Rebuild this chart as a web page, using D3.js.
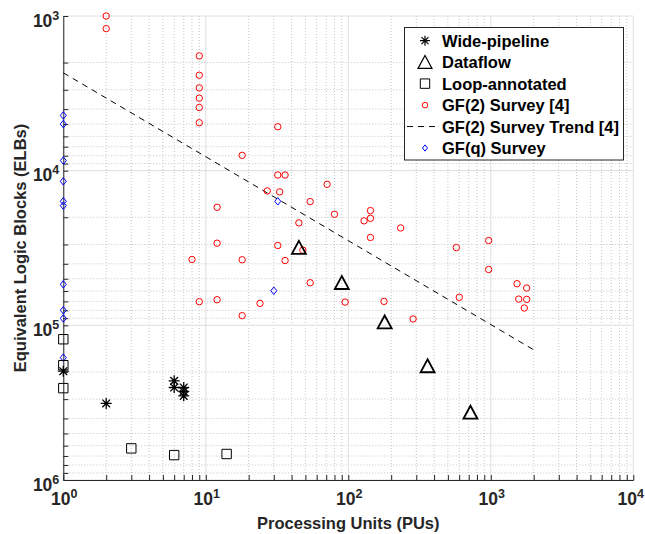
<!DOCTYPE html>
<html>
<head>
<meta charset="utf-8">
<script src="https://cdn.jsdelivr.net/npm/d3@7"></script>
<style>
  body { margin: 0; background: #fff; }
  svg { font-family: "Liberation Sans", Arial, Helvetica, sans-serif; font-weight: bold; }
</style>
</head>
<body>
<div id="chart"></div>
<script>
// Wide-pipeline (asterisks)
const widePU  = [1, 2, 6, 6, 7, 7, 7];
const wideELB = [198000, 320000, 228600, 252300, 252300, 267700, 285800];

// Dataflow (triangles)
const flowPU  = [45, 90, 180, 360, 720];
const flowELB = [31400, 53000, 95300, 183000, 365600];

// Loop-annotated (squares)
const loopPU  = [1, 1, 1, 3, 6, 14];
const loopELB = [123000, 181000, 254700, 624500, 690000, 679000];

// GF(2) survey [4] (red circles)
const gf2PU  = [2, 2, 9, 9, 9, 9, 9, 9, 32, 18, 32, 36, 71, 27, 33, 54, 12, 80, 143, 143,
                129, 45, 233, 143, 12, 32, 48, 8, 18, 36, 54, 9, 12, 24, 95, 178, 18, 285,
                573, 966, 966, 601, 1528, 1786, 1570, 1786, 1718];
const gf2ELB = [1000, 1207, 1812, 2415, 2914, 3397, 3905, 4898, 5200, 7960, 10670, 10670,
                12250, 13520, 13710, 15850, 17250, 19140, 18110, 20320, 21110, 21760, 23450,
                27040, 29430, 30480, 32670, 37500, 37670, 38100, 53040, 70330, 68270, 72130,
                70750, 70000, 86600, 90960, 31420, 28290, 43550, 65900, 53800, 57400, 67660,
                67940, 77270];

// GF(2) survey trend [4] (dashed line)
const trendPU  = [1, 2000];
const trendELB = [2330, 144000];

// GF(q) survey (blue diamonds)
const gfqPU  = [1, 1, 1, 1, 1, 1, 1, 1, 1, 1, 32, 30];
const gfqELB = [4395, 5000, 8610, 11720, 15780, 16830, 54330, 79960, 90200, 161700, 15780, 59740];

// axis ticks
const xMajor = [1, 10, 100, 1000, 10000];
const yMajor = [1000, 10000, 100000, 1000000];
const xLabels = ["0", "1", "2", "3", "4"];
const yLabels = ["3", "4", "5", "6"];

const legendNames = ["Wide-pipeline", "Dataflow", "Loop-annotated", "GF(2) Survey [4]",
                     "GF(2) Survey Trend [4]", "GF(q) Survey"];

const width = 645;
const height = 534;
const margins = { top: 16, right: 11.7, bottom: 54, left: 63.3 };

const xScale = d3.scaleLog()
  .domain([1, 10000])
  .range([margins.left, width - margins.right]);

// ELBs grow downwards
const yScale = d3.scaleLog()
  .domain([1000, 1000000])
  .range([margins.top, height - margins.bottom]);

// minor tick values 2..9 of every decade
function minors(major) {
  const out = [];
  major.slice(0, -1).forEach(m => {
    for (let k = 2; k <= 9; k++) out.push(m * k);
  });
  return out;
}
const xMinor = minors(xMajor);
const yMinor = minors(yMajor);

const svg = d3.select("#chart")
  .append("svg")
  .attr("width", width)
  .attr("height", height);

const x0 = margins.left, x1 = width - margins.right;
const y0 = margins.top, y1 = height - margins.bottom;

// minor grid (dotted)
svg.append("g")
  .selectAll("line")
  .data(xMinor)
  .join("line")
  .attr("x1", d => xScale(d)).attr("x2", d => xScale(d))
  .attr("y1", y0).attr("y2", y1)
  .attr("stroke", "#c4c4c4")
  .attr("stroke-dasharray", "1,2");
svg.append("g")
  .selectAll("line")
  .data(yMinor)
  .join("line")
  .attr("y1", d => yScale(d)).attr("y2", d => yScale(d))
  .attr("x1", x0).attr("x2", x1)
  .attr("stroke", "#c4c4c4")
  .attr("stroke-dasharray", "1,2");

// major grid (solid, light)
svg.append("g")
  .selectAll("line")
  .data(xMajor)
  .join("line")
  .attr("x1", d => xScale(d)).attr("x2", d => xScale(d))
  .attr("y1", y0).attr("y2", y1)
  .attr("stroke", "#dedede");
svg.append("g")
  .selectAll("line")
  .data(yMajor)
  .join("line")
  .attr("y1", d => yScale(d)).attr("y2", d => yScale(d))
  .attr("x1", x0).attr("x2", x1)
  .attr("stroke", "#dedede");

// axes, ticks pointing inward
function styleAxis(g) {
  g.selectAll("text").remove();
  g.selectAll("path, line").attr("stroke", "#262626");
}

svg.append("g")
  .attr("transform", `translate(0,${y1})`)
  .call(d3.axisBottom(xScale).tickValues(xMajor.concat(xMinor)).tickSizeInner(-5).tickSizeOuter(0))
  .call(styleAxis);

svg.append("g")
  .attr("transform", `translate(${x0},0)`)
  .call(d3.axisLeft(yScale).tickValues(yMajor.concat(yMinor)).tickSizeInner(-5).tickSizeOuter(0))
  .call(styleAxis);

// tick labels 10^n (last one kept inside the page edge)
const xt = svg.append("g")
  .selectAll("text")
  .data(xMajor)
  .join("text")
  .attr("x", (d, i) => i === xMajor.length - 1 ? width - 1 : xScale(d) + 1)
  .attr("y", y1 + 25)
  .attr("text-anchor", (d, i) => i === xMajor.length - 1 ? "end" : "middle")
  .attr("font-size", 17.5)
  .attr("fill", "#262626");
xt.append("tspan").text("10");
xt.append("tspan").attr("font-size", 12.5).attr("dy", -7).text((d, i) => xLabels[i]);

const yt = svg.append("g")
  .selectAll("text")
  .data(yMajor)
  .join("text")
  .attr("x", x0 - 4)
  .attr("y", d => yScale(d) + 10.5)
  .attr("text-anchor", "end")
  .attr("font-size", 17.5)
  .attr("fill", "#262626");
yt.append("tspan").text("10");
yt.append("tspan").attr("font-size", 12.5).attr("dy", -7).text((d, i) => yLabels[i]);

// axis titles
svg.append("text")
  .attr("x", (x0 + x1) / 2)
  .attr("y", 529)
  .attr("text-anchor", "middle")
  .attr("font-size", 16.5)
  .attr("fill", "#262626")
  .text("Processing Units (PUs)");

svg.append("text")
  .attr("transform", `translate(25.5,${(y0 + y1) / 2}) rotate(-90)`)
  .attr("text-anchor", "middle")
  .attr("font-size", 16.5)
  .attr("fill", "#262626")
  .text("Equivalent Logic Blocks (ELBs)");

// marker shapes
const starPath = s => `M${-s},0L${s},0M0,${-s}L0,${s}M${-s * 0.7},${-s * 0.7}L${s * 0.7},${s * 0.7}M${-s * 0.7},${s * 0.7}L${s * 0.7},${-s * 0.7}`;
const triPath = s => `M0,${-s * 0.95}L${s},${s * 0.9}L${-s},${s * 0.9}Z`;
const sqPath = s => `M${-s},${-s}H${s}V${s}H${-s}Z`;
const diaPath = s => `M0,${-s * 1.25}L${s},0L0,${s * 1.25}L${-s},0Z`;

// trend line
const line = d3.line()
  .x(d => xScale(d[0]))
  .y(d => yScale(d[1]));
svg.append("path")
  .datum(d3.zip(trendPU, trendELB))
  .attr("d", line)
  .attr("fill", "none")
  .attr("stroke", "#000")
  .attr("stroke-width", 1)
  .attr("stroke-dasharray", "6,5");

function drawMarks(px, py, path, color, sw) {
  svg.append("g")
    .selectAll("path")
    .data(d3.zip(px, py))
    .join("path")
    .attr("transform", d => `translate(${xScale(d[0])},${yScale(d[1])})`)
    .attr("d", path)
    .attr("fill", "none")
    .attr("stroke", color)
    .attr("stroke-width", sw);
}

// red circles
svg.append("g")
  .selectAll("circle")
  .data(d3.zip(gf2PU, gf2ELB))
  .join("circle")
  .attr("cx", d => xScale(d[0]))
  .attr("cy", d => yScale(d[1]))
  .attr("r", 3.2)
  .attr("fill", "none")
  .attr("stroke", "#ff0000")
  .attr("stroke-width", 1);

drawMarks(gfqPU, gfqELB, diaPath(3), "#0000ff", 1);
drawMarks(loopPU, loopELB, sqPath(4.7), "#000", 1);
drawMarks(widePU, wideELB, starPath(5.5), "#000", 1.3);
drawMarks(flowPU, flowELB, triPath(7), "#000", 1.8);

// legend
const lg = svg.append("g");
lg.append("rect")
  .attr("x", 404.5).attr("y", 27.5)
  .attr("width", 219).attr("height", 132.5)
  .attr("fill", "#fff")
  .attr("stroke", "#262626")
  .attr("stroke-width", 1);

const rowY = i => 40.7 + i * 21.46;
const sym = [
  { d: starPath(5), c: "#000", w: 1.2 },
  { d: triPath(7), c: "#000", w: 1.2 },
  { d: sqPath(4.7), c: "#000", w: 1 },
  { d: null, c: "#ff0000", w: 1 },
  { d: null, c: "#000", w: 1 },
  { d: diaPath(2.5), c: "#0000ff", w: 1 }
];

legendNames.forEach((name, i) => {
  const cy = rowY(i);
  if (i === 3) {
    lg.append("circle").attr("cx", 425).attr("cy", cy).attr("r", 2.8)
      .attr("fill", "none").attr("stroke", "#ff0000");
  } else if (i === 4) {
    lg.append("line").attr("x1", 407).attr("x2", 440).attr("y1", cy).attr("y2", cy)
      .attr("stroke", "#000").attr("stroke-dasharray", "6,5");
  } else {
    lg.append("path").attr("transform", `translate(425,${cy})`)
      .attr("d", sym[i].d).attr("fill", "none")
      .attr("stroke", sym[i].c).attr("stroke-width", sym[i].w);
  }
  lg.append("text")
    .attr("x", 442)
    .attr("y", cy + 6)
    .attr("font-size", 16.5)
    .attr("fill", "#000")
    .text(name);
});
</script>
</body>
</html>
